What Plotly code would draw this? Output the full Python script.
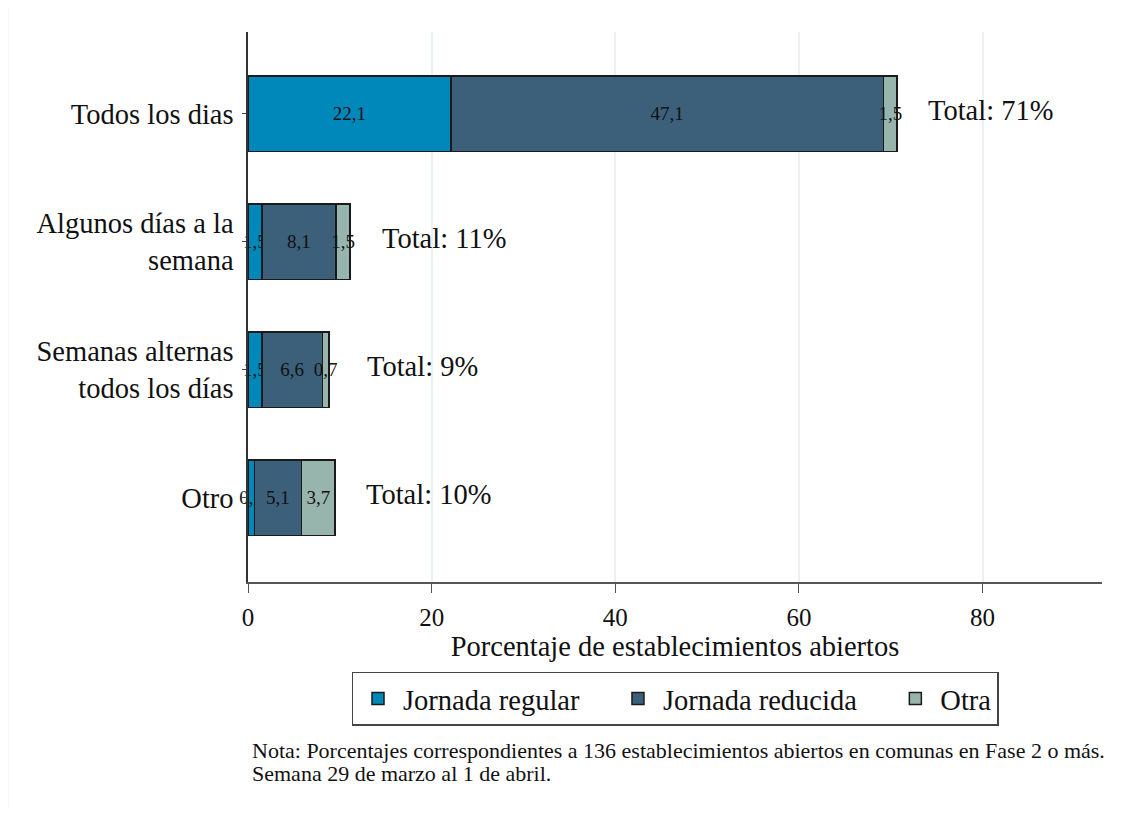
import plotly.graph_objects as go

categories = ["Todos los dias", "Algunos días a la<br>semana", "Semanas alternas<br>todos los días", "Otro"]
regular = [22.1, 1.5, 1.5, 0.7]
reducida = [47.1, 8.1, 6.6, 5.1]
otra = [1.5, 1.5, 0.7, 3.7]
totals = [71, 11, 9, 10]
series_names = ["Jornada regular", "Jornada reducida", "Otra"]
colors = ["#0088BB", "#3C5F7A", "#97B5AD"]
xticks = [0, 20, 40, 60, 80]
note_lines = ["Nota: Porcentajes correspondientes a 136 establecimientos abiertos en comunas en Fase 2 o más.",
              "Semana 29 de marzo al 1 de abril."]

FONT = "Liberation Serif"
BIG = 28.5
PAD = "\u00a0" * 4

def fmt(v):
    return f"{v:.1f}".replace(".", ",")

fig = go.Figure()
for i, (name, vals, col) in enumerate(zip(series_names, [regular, reducida, otra], colors)):
    fig.add_trace(go.Bar(
        y=categories, x=vals, name=name + (PAD if i < len(series_names) - 1 else ""),
        orientation="h",
        marker=dict(color=col, line=dict(color="#1a1a1a", width=1.5)),
        width=0.59,
        text=[fmt(v) for v in vals],
        textposition="inside", insidetextanchor="middle",
        textangle=0, constraintext="none",
        textfont=dict(family=FONT, size=19, color="#111111"),
        cliponaxis=False,
    ))

for cat, r, d, o, t in zip(categories, regular, reducida, otra, totals):
    fig.add_annotation(
        x=r + d + o + 10.2, y=cat, xref="x", yref="y",
        text=f"Total: {t}%", showarrow=False, xanchor="center", yanchor="middle",
        yshift=3, font=dict(family=FONT, size=BIG, color="#111111"),
    )

for i, line in enumerate(note_lines):
    fig.add_annotation(
        x=0, y=-0.3055 - 0.042 * i, xref="paper", yref="paper", xshift=2,
        text=line, showarrow=False, xanchor="left", yanchor="middle", align="left",
        font=dict(family=FONT, size=22, color="#111111"),
    )

fig.add_shape(type="rect", xref="paper", yref="paper",
              x0=-0.281, x1=1.05, y0=-0.5, y1=1.0527,
              line=dict(color="#eeeeee", width=1), layer="below")

fig.update_layout(
    width=1117, height=800,
    margin=dict(l=240, r=23, t=24, b=226),
    barmode="stack",
    plot_bgcolor="white", paper_bgcolor="white",
    font=dict(family=FONT, size=BIG, color="#111111"),
    legend=dict(
        orientation="h", x=0.5, xanchor="center", y=-0.1636, yanchor="top",
        bordercolor="#444444", borderwidth=1.5, itemwidth=40,
        font=dict(family=FONT, size=BIG, color="#111111"),
        traceorder="normal",
    ),
    xaxis=dict(
        range=[0, 93], tickvals=xticks, ticktext=[str(v) for v in xticks],
        showgrid=True, gridcolor="#E9F1F2", gridwidth=1.5,
        zeroline=False, showline=True, linecolor="#555555", linewidth=2,
        ticks="outside", ticklen=9, tickcolor="#555555",
        tickfont=dict(family=FONT, size=25), ticklabelstandoff=3,
        title=dict(text="Porcentaje de establecimientos abiertos",
                   font=dict(family=FONT, size=BIG), standoff=3),
    ),
    yaxis=dict(
        range=[3.66, -0.64], type="category",
        showgrid=False, zeroline=False, showline=True, linecolor="#333333", linewidth=1.5,
        ticks="outside", ticklen=4, tickcolor="#444444",
        tickfont=dict(family=FONT, size=BIG), ticklabelstandoff=3,
    ),
)

fig.write_html("out.html")
